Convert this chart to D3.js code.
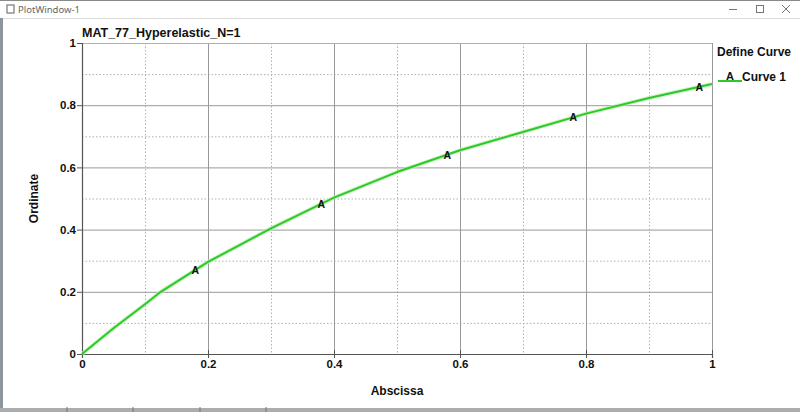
<!DOCTYPE html>
<html lang="en">
<head>
    <meta charset="UTF-8">
    <script src="https://cdn.jsdelivr.net/npm/d3@7"></script>
    <style>
        body { margin: 0; background: #ffffff; overflow: hidden; }
        svg { display: block; font-family: "Liberation Sans", Arial, sans-serif; }
    </style>
</head>
<body>
    <div id="plot"></div>
</body>
<script>
    // DATA
    const CURVE_X = [0, 0.05, 0.1, 0.125, 0.2, 0.3, 0.4, 0.5, 0.6, 0.7, 0.8, 0.9, 1.0];
    const CURVE_Y = [0, 0.083, 0.16, 0.2, 0.296, 0.404, 0.503, 0.585, 0.655, 0.714, 0.773, 0.823, 0.868];
    // positions of the "A" curve markers along x
    const MARK_X = [0.18, 0.38, 0.58, 0.78, 0.98];
    const MAJOR_TICKS = [0, 0.2, 0.4, 0.6, 0.8, 1];
    const MINOR_TICKS = [0.1, 0.3, 0.5, 0.7, 0.9];
    const TITLE = "MAT_77_Hyperelastic_N=1";
    const LEGEND_TITLE = "Define Curve";
    const LEGEND_LABEL = "Curve 1";

    const WIDTH = 800;
    const HEIGHT = 412;
    const GREEN = "#2dc82d";

    const svg = d3.select("#plot").append("svg")
        .attr("width", WIDTH)
        .attr("height", HEIGHT);

    // WINDOW CHROME
    svg.append("rect").attr("x", 0).attr("y", 0).attr("width", WIDTH).attr("height", 18)
        .attr("fill", "#ffffff");
    svg.append("line").attr("x1", 0).attr("x2", WIDTH).attr("y1", 0.5).attr("y2", 0.5)
        .attr("stroke", "#8a8a8a");
    svg.append("line").attr("x1", 0).attr("x2", WIDTH).attr("y1", 18.5).attr("y2", 18.5)
        .attr("stroke", "#dcdcdc");
    svg.append("rect").attr("x", 0).attr("y", 18).attr("width", 3).attr("height", HEIGHT - 18)
        .attr("fill", "#8c959c");
    svg.append("rect").attr("x", 0).attr("y", 408).attr("width", WIDTH).attr("height", 4)
        .attr("fill", "#a9adb0");
    [67, 133, 200, 266].forEach(x => {
        svg.append("line").attr("x1", x).attr("x2", x).attr("y1", 407).attr("y2", 412)
            .attr("stroke", "#6f7478");
    });
    // small window icon + title
    svg.append("rect").attr("x", 7).attr("y", 5).attr("width", 7).attr("height", 8)
        .attr("fill", "none").attr("stroke", "#777").attr("stroke-width", 1.2);
    svg.append("text").attr("x", 18).attr("y", 13)
        .attr("font-family", "'Segoe UI', 'Noto Sans', sans-serif")
        .attr("font-size", 9.5).attr("fill", "#666").text("PlotWindow-1");
    // min / max / close buttons
    svg.append("line").attr("x1", 729).attr("x2", 737).attr("y1", 9.5).attr("y2", 9.5)
        .attr("stroke", "#777");
    svg.append("rect").attr("x", 756.5).attr("y", 5.5).attr("width", 7).attr("height", 7)
        .attr("fill", "none").attr("stroke", "#777");
    svg.append("path").attr("d", "M782,5 L790,13 M790,5 L782,13").attr("stroke", "#777");

    // SCALES
    const x = d3.scaleLinear().domain([0, 1]).range([82, 712]);
    const y = d3.scaleLinear().domain([0, 1]).range([354, 43]);

    // GRID
    const grid = svg.append("g");
    grid.selectAll(".minx").data(MINOR_TICKS).enter().append("line")
        .attr("x1", d => x(d) + 0.5).attr("x2", d => x(d) + 0.5)
        .attr("y1", y(1)).attr("y2", y(0))
        .attr("stroke", "#b0b0b0").attr("stroke-dasharray", "1.5,2");
    grid.selectAll(".miny").data(MINOR_TICKS).enter().append("line")
        .attr("x1", x(0)).attr("x2", x(1))
        .attr("y1", d => y(d) + 0.5).attr("y2", d => y(d) + 0.5)
        .attr("stroke", "#b0b0b0").attr("stroke-dasharray", "1.5,2");
    grid.selectAll(".majx").data(MAJOR_TICKS.slice(1, -1)).enter().append("line")
        .attr("x1", d => x(d) + 0.5).attr("x2", d => x(d) + 0.5)
        .attr("y1", y(1)).attr("y2", y(0))
        .attr("stroke", "#999999");
    grid.selectAll(".majy").data(MAJOR_TICKS.slice(1, -1)).enter().append("line")
        .attr("x1", x(0)).attr("x2", x(1))
        .attr("y1", d => y(d) + 0.5).attr("y2", d => y(d) + 0.5)
        .attr("stroke", "#999999");
    // frame top + right
    grid.append("line").attr("x1", x(0)).attr("x2", x(1)).attr("y1", y(1) + 0.5).attr("y2", y(1) + 0.5)
        .attr("stroke", "#b0b0b0");
    grid.append("line").attr("x1", x(1) + 0.5).attr("x2", x(1) + 0.5).attr("y1", y(1)).attr("y2", y(0))
        .attr("stroke", "#999999");

    // AXES
    const fmt = d => d === 0 || d === 1 ? String(d) : d3.format(".1f")(d);
    const xAxis = svg.append("g").attr("transform", `translate(0,${y(0)})`)
        .call(d3.axisBottom(x).tickValues(MAJOR_TICKS).tickFormat(fmt).tickSize(4).tickPadding(2));
    const yAxis = svg.append("g").attr("transform", `translate(${x(0)},0)`)
        .call(d3.axisLeft(y).tickValues(MAJOR_TICKS).tickFormat(fmt).tickSize(5).tickPadding(1));
    [xAxis, yAxis].forEach(a => {
        a.select(".domain").attr("stroke", "#555").attr("stroke-width", 1.2);
        a.selectAll(".tick line").attr("stroke", "#555");
        a.selectAll(".tick text").attr("font-family", "'Liberation Sans', Arial, sans-serif")
            .attr("font-size", 11.5).attr("font-weight", "bold").attr("fill", "#111");
    });
    xAxis.selectAll(".tick line").attr("y1", -4).attr("y2", 4);

    // CURVE
    const pts = CURVE_X.map((d, i) => [d, CURVE_Y[i]]);
    const line = d3.line().x(d => x(d[0])).y(d => y(d[1]));
    svg.append("path").datum(pts).attr("d", line)
        .attr("fill", "none").attr("stroke", "#b8f0a8").attr("stroke-width", 4)
        .attr("stroke-linejoin", "round").attr("opacity", 0.7);
    svg.append("path").datum(pts).attr("d", line)
        .attr("fill", "none").attr("stroke", GREEN).attr("stroke-width", 2)
        .attr("stroke-linejoin", "round");

    // markers "A" sitting on the curve
    const interpY = d3.scaleLinear().domain(CURVE_X).range(CURVE_Y);
    svg.selectAll(".mark").data(MARK_X).enter().append("text")
        .attr("x", d => x(d))
        .attr("y", d => y(interpY(d)) + 4)
        .attr("text-anchor", "middle")
        .attr("font-size", 10.5).attr("font-weight", "bold").attr("fill", "#111")
        .text("A");

    // TITLES
    svg.append("text").attr("x", 82).attr("y", 37)
        .attr("font-size", 12.5).attr("font-weight", "bold").attr("fill", "#111").text(TITLE);
    svg.append("text").attr("x", x(0.5)).attr("y", 395).attr("text-anchor", "middle")
        .attr("font-size", 12).attr("font-weight", "bold").attr("fill", "#111").text("Abscissa");
    svg.append("text").attr("transform", `translate(38,${y(0.5)}) rotate(-90)`).attr("text-anchor", "middle")
        .attr("font-size", 12).attr("font-weight", "bold").attr("fill", "#111").text("Ordinate");

    // LEGEND
    svg.append("text").attr("x", 717).attr("y", 56)
        .attr("font-size", 12).attr("font-weight", "bold").attr("fill", "#111").text(LEGEND_TITLE);
    svg.append("line").attr("x1", 718).attr("x2", 742).attr("y1", 81).attr("y2", 81)
        .attr("stroke", GREEN).attr("stroke-width", 2);
    svg.append("text").attr("x", 730).attr("y", 80).attr("text-anchor", "middle")
        .attr("font-size", 11).attr("font-weight", "bold").attr("fill", "#111").text("A");
    svg.append("text").attr("x", 742).attr("y", 81)
        .attr("font-size", 12).attr("font-weight", "bold").attr("fill", "#111").text(LEGEND_LABEL);
</script>
</html>
